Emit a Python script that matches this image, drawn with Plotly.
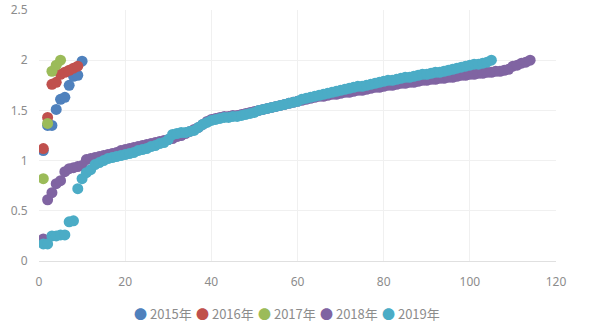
import plotly.graph_objects as go

series_names = ["2015年", "2016年", "2017年", "2018年", "2019年"]
series_colors = ["#4F81BD", "#C0504D", "#9BBB59", "#8064A2", "#4BACC6"]

y2015 = [1.10, 1.35, 1.35, 1.51, 1.61, 1.63, 1.75, 1.84, 1.85, 1.99]
y2016 = [1.12, 1.43, 1.76, 1.78, 1.86, 1.88, 1.90, 1.92, 1.94]
y2017 = [0.82, 1.37, 1.89, 1.95, 2.00]
y2018 = [0.22, 0.61, 0.68, 0.77, 0.80, 0.89, 0.92, 0.93, 0.94, 0.95,
         1.01, 1.02, 1.03, 1.04, 1.05, 1.06, 1.07, 1.08, 1.10, 1.11,
         1.12, 1.13, 1.14, 1.15, 1.16, 1.17, 1.18, 1.19, 1.20, 1.21,
         1.22, 1.24, 1.25, 1.27, 1.29, 1.31, 1.33, 1.36, 1.39, 1.41,
         1.42, 1.43, 1.44, 1.44, 1.45, 1.45, 1.46, 1.47, 1.48, 1.49,
         1.50, 1.51, 1.52, 1.53, 1.54, 1.55, 1.56, 1.57, 1.58, 1.59,
         1.60, 1.61, 1.62, 1.63, 1.64, 1.64, 1.65, 1.66, 1.66, 1.67,
         1.68, 1.68, 1.69, 1.70, 1.70, 1.71, 1.72, 1.73, 1.73, 1.74,
         1.75, 1.75, 1.76, 1.77, 1.77, 1.78, 1.78, 1.79, 1.80, 1.80,
         1.81, 1.81, 1.82, 1.82, 1.83, 1.83, 1.84, 1.85, 1.85, 1.86,
         1.86, 1.87, 1.87, 1.88, 1.88, 1.89, 1.89, 1.90, 1.91, 1.94,
         1.95, 1.97, 1.98, 2.00]
y2019 = [0.17, 0.17, 0.25, 0.25, 0.26, 0.26, 0.39, 0.40, 0.72, 0.82,
         0.88, 0.91, 0.96, 0.98, 1.00, 1.02, 1.03, 1.04, 1.05, 1.06,
         1.07, 1.08, 1.10, 1.11, 1.12, 1.14, 1.15, 1.17, 1.18, 1.21,
         1.26, 1.27, 1.28, 1.28, 1.29, 1.30, 1.33, 1.36, 1.38, 1.40,
         1.41, 1.42, 1.43, 1.43, 1.44, 1.44, 1.45, 1.46, 1.47, 1.48,
         1.50, 1.51, 1.52, 1.53, 1.54, 1.55, 1.56, 1.57, 1.58, 1.59,
         1.61, 1.62, 1.63, 1.64, 1.65, 1.66, 1.67, 1.68, 1.69, 1.70,
         1.71, 1.72, 1.73, 1.74, 1.74, 1.75, 1.76, 1.77, 1.78, 1.79,
         1.80, 1.80, 1.81, 1.82, 1.83, 1.83, 1.84, 1.85, 1.86, 1.86,
         1.87, 1.88, 1.88, 1.89, 1.90, 1.91, 1.92, 1.93, 1.94, 1.95,
         1.96, 1.96, 1.97, 1.98, 2.00]

x_ticks = [0, 20, 40, 60, 80, 100, 120]
y_ticks = [0, 0.5, 1, 1.5, 2, 2.5]
y_tick_labels = ["0", "0.5", "1", "1.5", "2", "2.5"]

all_series = [y2015, y2016, y2017, y2018, y2019]

W, H = 612, 330
ML, MR, MT, MB = 39, 56, 10, 69
PW = W - ML - MR

font_family = "'Noto Sans CJK SC', 'Noto Sans', sans-serif"
tick_family = "'Noto Sans', 'DejaVu Sans', sans-serif"
grey = "#8C8C8C"

fig = go.Figure()
for name, color, ys in zip(series_names, series_colors, all_series):
    fig.add_trace(go.Scatter(
        x=list(range(1, len(ys) + 1)),
        y=ys,
        mode="markers",
        name=name,
        showlegend=False,
        marker=dict(color=color, size=11, line=dict(width=0)),
    ))

# legend built as text annotations (coloured bullet + label)
legend_start_px = 132
legend_step_px = 62
legend_y_px = 313
for i, (name, color) in enumerate(zip(series_names, series_colors)):
    px = legend_start_px + i * legend_step_px
    fig.add_annotation(
        xref="paper", yref="paper",
        x=(px - ML) / PW, y=(H - MB - legend_y_px) / (H - MT - MB),
        xanchor="left", yanchor="middle", showarrow=False,
        text=f'<span style="color:{color};font-size:13px">●</span> {name}',
        font=dict(family=font_family, size=13, color=grey),
    )

fig.update_layout(
    width=W, height=H,
    margin=dict(l=ML, r=MR, t=MT, b=MB, autoexpand=False),
    paper_bgcolor="white", plot_bgcolor="white",
    font=dict(family=font_family, color=grey, size=12),
    showlegend=False,
    xaxis=dict(range=[0, 120], tickvals=x_ticks, showgrid=True, gridcolor="#F0F0F0",
               gridwidth=1, zeroline=False, showline=True, linecolor="#E0E0E0",
               linewidth=1, ticks="outside", ticklen=10, tickcolor="rgba(0,0,0,0)",
               tickfont=dict(size=12, color=grey, family=tick_family), fixedrange=True,
               ticklabeloverflow="allow", automargin=False),
    yaxis=dict(range=[0, 2.5], tickvals=y_ticks, ticktext=y_tick_labels, showgrid=True,
               gridcolor="#F0F0F0", gridwidth=1, zeroline=False, showline=False,
               ticks="outside", ticklen=8, tickcolor="rgba(0,0,0,0)",
               tickfont=dict(size=12, color=grey, family=tick_family), fixedrange=True,
               ticklabeloverflow="allow", automargin=False),
)

fig.write_html("out.html")
